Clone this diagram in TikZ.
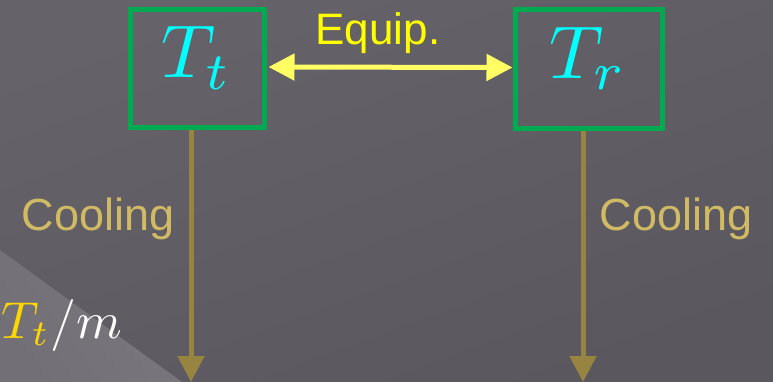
\documentclass[tikz,border=0pt]{standalone}
\usepackage{graphicx}
\usepackage{fontspec}
\setmainfont{Liberation Sans}
\usetikzlibrary{arrows.meta}
\definecolor{bgtop}{RGB}{101,99,105}
\definecolor{bgbot}{RGB}{90,88,94}
\definecolor{bglight}{RGB}{122,120,126}
\definecolor{bglightedge}{RGB}{114,112,118}
\definecolor{boxgreen}{RGB}{0,170,80}
\definecolor{tcyan}{RGB}{0,255,255}
\definecolor{eqyellow}{RGB}{255,255,100}
\definecolor{labyellow}{RGB}{255,255,0}
\definecolor{coolarrow}{RGB}{150,132,64}
\definecolor{coollabel}{RGB}{208,186,100}
\definecolor{gold}{RGB}{255,215,0}
\tikzset{
  tempbox/.style={draw=boxgreen, line width=5pt, text=tcyan, inner sep=0pt},
  equiparrow/.style={draw=eqyellow, line width=5pt,
    {Triangle[length=26pt,width=26pt]}-{Triangle[length=26pt,width=26pt]}},
  coolarrowstyle/.style={draw=coolarrow, line width=5pt,
    -{Triangle[length=26pt,width=26pt]}},
  coollab/.style={text=coollabel, font=\fontsize{45}{50}\selectfont, anchor=base, inner sep=0pt},
}
\begin{document}
\begin{tikzpicture}[x=1pt,y=-1pt]
  % background
  \useasboundingbox (0,0) rectangle (773,382);
  \shade[top color=bgtop, bottom color=bgbot, shading angle=20] (0,0) rectangle (773,382);
  \shade[left color=bglight, right color=bglightedge, shading angle=-54]
    (0,250) -- (182,382) -- (0,382) -- cycle;

  % temperature boxes (symbol baseline 9pt below the centre)
  \node[tempbox, minimum width=134pt, minimum height=118pt] (tt) at (197,69)
    {\raisebox{-9pt}[0pt][0pt]{\scalebox{7.5}{$T_t$}}};
  \node[tempbox, minimum width=147pt, minimum height=119pt] (tr) at (588.5,69.5)
    {\raisebox{-9pt}[0pt][0pt]{\scalebox{7.5}{$T_r$}}};

  % equilibration between the two
  \draw[equiparrow] ([xshift=2pt,yshift=2pt]tt.east) -- ([yshift=2pt]tr.west);
  \node[text=labyellow, font=\fontsize{44}{50}\selectfont, anchor=base, inner sep=0pt]
    (eq) at (378,45) {Equip.};

  % cooling of each
  \coordinate (ctt) at (191,382);
  \coordinate (ctr) at (583,382);
  \draw[coolarrowstyle] (tt.south -| ctt) -- (ctt);
  \draw[coolarrowstyle] (tr.south -| ctr) -- (ctr);
  \node[coollab] (cl) at (98,230) {Cooling};
  \node[coollab] (cr) at (676,230) {Cooling};

  % ratio
  \node[anchor=base east, inner sep=0pt, text=white] (ratio) at (122,338)
    {\scalebox{5.2}{$\color{gold}T_t\color{white}/m$}};
\end{tikzpicture}
\end{document}
